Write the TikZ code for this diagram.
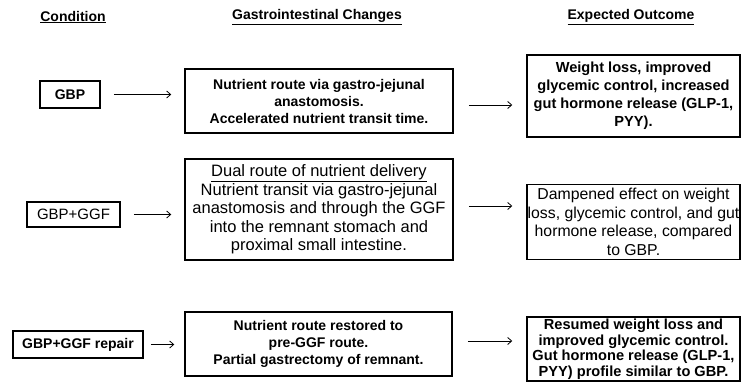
\documentclass[tikz,border=0pt]{standalone}
\usepackage{fontspec}
\setmainfont{Liberation Sans}
\usetikzlibrary{arrows.meta}
\begin{document}
\begin{tikzpicture}[x=1pt,y=-1pt,
  boxb/.style={draw, line width=1.5pt, align=center, inner sep=0pt,
    font=\fontsize{14}{17}\selectfont\bfseries},
  boxr/.style={draw, line width=1.5pt, align=center, inner sep=0pt,
    font=\fontsize{16.5}{18.5}\selectfont},
  head/.style={font=\fontsize{14}{17}\selectfont\bfseries, inner sep=0pt},
  arr/.style={-{Straight Barb[length=4pt,width=7pt]}, line width=0.8pt}
]
\useasboundingbox (0,0) rectangle (742,382);
% headers
\node[head] (h1) at (73,17) {\underline{Condition}};
\node[head] (h2) at (317,17) {\underline{Gastrointestinal Changes}};
\node[head] (h3) at (631,17) {\underline{Expected Outcome}};
% row 1
\node[boxb, minimum width=60pt, minimum height=27pt] (c1) at (70,94.5) {GBP};
\node[boxb, minimum width=268pt, minimum height=64pt] (m1) at (319,101)
  {Nutrient route via gastro-jejunal\\anastomosis.\\Accelerated nutrient transit time.};
\node[boxb, minimum width=213pt, minimum height=82pt,
  font=\fontsize{14.6}{18}\selectfont\bfseries] (o1) at (633.5,96)
  {Weight loss, improved\\glycemic control, increased\\gut hormone release (GLP-1,\\PYY).};
% row 2
\node[boxr, minimum width=93pt, minimum height=25pt,
  font=\fontsize{15}{18}\selectfont] (c2) at (73.5,214.5) {GBP+GGF};
\node[boxr, minimum width=268pt, minimum height=101pt] (m2) at (319,209.5)
  {\underline{Dual route of nutrient delivery}\\Nutrient transit via gastro-jejunal\\anastomosis and through the GGF\\into the remnant stomach and\\proximal small intestine.};
\node[boxr, minimum width=213pt, minimum height=75pt,
  font=\fontsize{15.8}{18.5}\selectfont] (o2) at (633.5,222)
  {Dampened effect on weight\\loss, glycemic control, and gut\\hormone release, compared\\to GBP.};
% row 3
\node[boxb, minimum width=130pt, minimum height=27pt] (c3) at (78,344.5) {GBP+GGF repair};
\node[boxb, minimum width=267pt, minimum height=64pt] (m3) at (318.5,344)
  {Nutrient route restored to\\pre-GGF route.\\Partial gastrectomy of remnant.};
\node[boxb, minimum width=213pt, minimum height=64pt,
  font=\fontsize{14.6}{15.5}\selectfont\bfseries] (o3) at (633.5,349)
  {Resumed weight loss and\\improved glycemic control.\\Gut hormone release (GLP-1,\\PYY) profile similar to GBP.};
% arrows
\draw[arr, shorten <=13pt, shorten >=13pt] (c1.east) -- (c1.east -| m1.west);
\draw[arr, shorten <=13pt, shorten >=13pt] (c2.east) -- (c2.east -| m2.west);
\draw[arr, shorten <=7pt, shorten >=10pt] (c3.east) -- (c3.east -| m3.west);
\draw[arr, shorten <=15pt, shorten >=14pt] ([yshift=-4pt]m1.east) -- ([yshift=-4pt]m1.east -| o1.west);
\draw[arr, shorten <=15pt, shorten >=14pt] ([yshift=3.5pt]m2.east) -- ([yshift=3.5pt]m2.east -| o2.west);
\draw[arr, shorten <=15pt, shorten >=14pt] ([yshift=3pt]m3.east) -- ([yshift=3pt]m3.east -| o3.west);
\end{tikzpicture}
\end{document}
